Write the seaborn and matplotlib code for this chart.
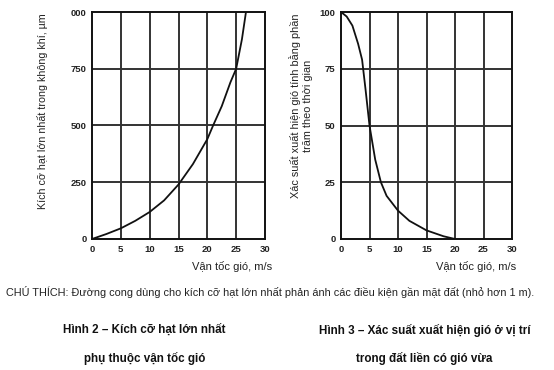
import matplotlib
matplotlib.use("Agg")
import matplotlib.pyplot as plt
import seaborn as sns
import pandas as pd

# Figure 2: largest particle size vs wind speed
speed_size = [0, 2.5, 5, 7.5, 10, 12.5, 15, 17.5, 20, 21, 22.5, 24, 25, 26, 26.7]
size_um = [0, 22, 47, 80, 119, 170, 240, 330, 440, 500, 585, 690, 750, 880, 1000]

# Figure 3: probability of wind (% of time) vs wind speed
speed_prob = [0, 1, 2, 3, 3.7, 4.3, 5, 6, 7, 8, 10, 12, 15, 18, 20]
prob_pct = [100, 98, 94, 86, 79, 66, 50, 35, 25, 19, 12.5, 8, 3.8, 1.2, 0]

x_ticks = [0, 5, 10, 15, 20, 25, 30]
y1_ticks = [0, 250, 500, 750, 1000]
y1_labels = ["0", "250", "500", "750", "000"]
y2_ticks = [0, 25, 50, 75, 100]
y2_labels = ["0", "25", "50", "75", "100"]

xlabel = "Vận tốc gió, m/s"
ylabel1 = "Kích cỡ hạt lớn nhất trong không khí, µm"
ylabel2 = "Xác suất xuất hiện gió tính bằng phần\ntrăm theo thời gian"
note = "CHÚ THÍCH: Đường cong dùng cho kích cỡ hạt lớn nhất phản ánh các điều kiện gần mặt đất (nhỏ hơn 1 m)."
title2 = "Hình 2 – Kích cỡ hạt lớn nhất"
title2b = "phụ thuộc vận tốc gió"
title3 = "Hình 3 – Xác suất xuất hiện gió ở vị trí"
title3b = "trong đất liền có gió vừa"

sns.set_theme(style="white")
plt.rcParams["font.family"] = ["Liberation Sans", "DejaVu Sans"]

fig = plt.figure(figsize=(5.54, 3.70), dpi=100)
W, H = 554, 370
ax1 = fig.add_axes([92 / W, 1 - 239 / H, (265 - 92) / W, (239 - 12) / H])
ax2 = fig.add_axes([341 / W, 1 - 239 / H, (512 - 341) / W, (239 - 12) / H])

df1 = pd.DataFrame({"v": speed_size, "s": size_um})
df2 = pd.DataFrame({"v": speed_prob, "p": prob_pct})
sns.lineplot(data=df1, x="v", y="s", ax=ax1, color="#111111", lw=1.3)
sns.lineplot(data=df2, x="v", y="p", ax=ax2, color="#111111", lw=1.3)

grid_col = "#333333"
for ax, yt, yl, ymax in [(ax1, y1_ticks, y1_labels, 1000), (ax2, y2_ticks, y2_labels, 100)]:
    ax.set_xlim(0, 30)
    ax.set_ylim(0, ymax)
    ax.set_xticks(x_ticks)
    ax.set_xticklabels([str(t) for t in x_ticks], fontsize=6.8, fontweight="bold", color="#222222")
    ax.set_yticks(yt)
    ax.set_yticklabels(yl, fontsize=6.8, fontweight="bold", color="#222222")
    ax.tick_params(length=0, pad=4)
    for t in x_ticks[1:-1]:
        ax.axvline(t, color=grid_col, lw=1.4, zorder=0)
    for t in yt[1:-1]:
        ax.axhline(t, color=grid_col, lw=1.4, zorder=0)
    for sp in ax.spines.values():
        sp.set_visible(True)
        sp.set_color("#111111")
        sp.set_linewidth(1.4)
    ax.set_xlabel("")
    ax.set_ylabel("")

fig.text(43 / W, 1 - 111.5 / H, ylabel1, rotation=90, ha="center", va="center", fontsize=7.65, color="#222222")
fig.text(301 / W, 1 - 106 / H, ylabel2, rotation=90, ha="center", va="center", fontsize=7.85, color="#222222",
         linespacing=1.25)
fig.text(232.5 / W, 1 - 267 / H, xlabel, ha="center", va="center", fontsize=8, color="#222222")
fig.text(476.5 / W, 1 - 267 / H, xlabel, ha="center", va="center", fontsize=8, color="#222222")
fig.text(270.5 / W, 1 - 292 / H, note, ha="center", va="center", fontsize=7.85, color="#222222")
fig.text(144.5 / W, 1 - 330 / H, title2, ha="center", va="center", fontsize=8.4, fontweight="bold", color="#111111")
fig.text(144.5 / W, 1 - 358 / H, title2b, ha="center", va="center", fontsize=8.4, fontweight="bold", color="#111111")
fig.text(425 / W, 1 - 330 / H, title3, ha="center", va="center", fontsize=8.4, fontweight="bold", color="#111111")
fig.text(424 / W, 1 - 358 / H, title3b, ha="center", va="center", fontsize=8.4, fontweight="bold", color="#111111")

fig.savefig("out.png", dpi=100)
